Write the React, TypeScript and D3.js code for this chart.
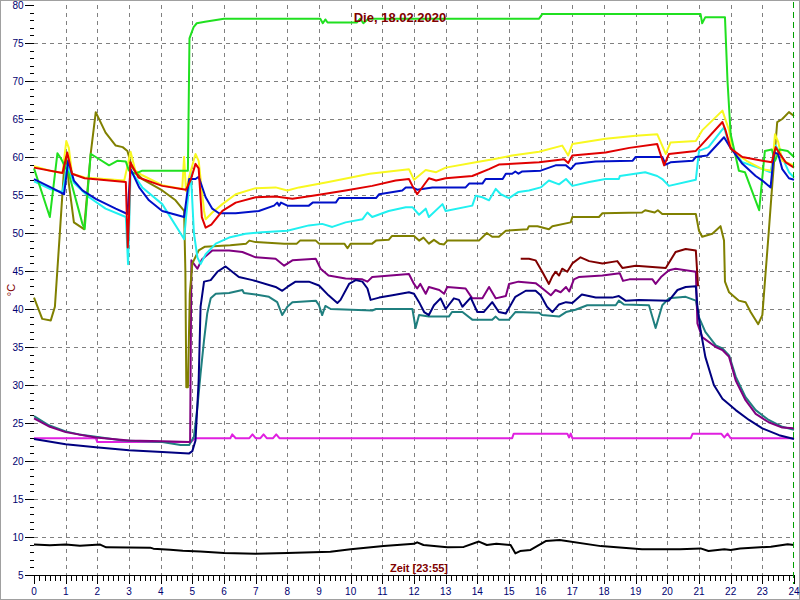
import React from "react";
import * as d3 from "d3";

type Pt = [number, number];

// hours 0..24, °C
const hourTicks = d3.range(0, 25);
const tempTicks = d3.range(5, 81, 5);

const green: Pt[] = [[0,58.5],[0.5,52.1],[0.74,60.5],[0.85,59.8],[1.1,57.8],[1.53,51.2],[1.6,50.5],[1.79,60.4],[1.95,60.0],[2.37,58.9],[2.63,59.5],[2.9,59.4],[3.0,58.2],[3.2,57.8],[3.42,58.2],[4.86,58.2],[4.91,75.6],[5.04,77.1],[5.14,77.6],[5.4,77.8],[6.0,78.2],[9.04,78.2],[9.12,77.6],[9.2,78.1],[9.27,77.7],[10.2,77.7],[10.3,78.2],[10.4,77.6],[10.56,78.2],[15.95,78.2],[16.05,78.8],[21.05,78.8],[21.1,77.6],[21.2,78.4],[21.82,78.4],[21.9,70.0],[22.0,63.0],[22.26,58.2],[22.45,58.0],[22.9,53.0],[23.0,57.3],[23.08,60.8],[23.3,61.0],[23.4,59.5],[23.55,61.0],[23.8,60.8],[24,60.0]];

const yellow: Pt[] = [[0,58.8],[0.5,58.2],[0.9,57.9],[1.02,62.1],[1.1,61.2],[1.2,57.8],[1.6,57.3],[2.85,56.9],[3.05,60.7],[3.2,58.2],[3.42,57.6],[4.05,56.3],[4.68,55.8],[4.74,60.0],[4.8,55.5],[4.9,57.4],[5.1,60.4],[5.2,59.5],[5.37,52.9],[5.42,51.8],[5.63,52.7],[5.95,53.8],[6.37,55.1],[7.0,55.9],[7.63,56.0],[8.0,55.6],[8.37,56.0],[9.3,56.7],[10.6,57.8],[11.84,58.4],[12.0,57.0],[12.37,58.3],[12.7,58.0],[13.0,58.6],[13.95,59.3],[14.5,59.7],[15.1,60.2],[15.95,60.7],[16.68,61.5],[16.87,60.2],[17.0,61.7],[18.05,62.4],[19.0,62.8],[19.68,63.0],[19.95,60.4],[20.1,61.9],[20.9,62.1],[21.1,63.5],[21.74,66.1],[21.95,63.5],[22.05,60.8],[22.5,59.5],[23.0,58.4],[23.3,58.2],[23.4,63.0],[23.5,62.0],[23.63,59.5],[24,58.9]];

const red: Pt[] = [[0,58.6],[0.9,57.9],[1.05,60.6],[1.2,57.8],[1.6,57.2],[2.9,56.7],[2.96,48.1],[3.0,52.0],[3.04,59.3],[3.3,57.3],[4.05,56.2],[4.8,55.7],[4.95,57.0],[5.1,59.1],[5.2,58.5],[5.3,52.1],[5.42,50.7],[5.6,51.1],[5.95,52.9],[6.37,54.0],[7.0,54.7],[7.63,54.8],[8.16,54.5],[8.8,54.9],[9.84,55.6],[10.68,56.2],[11.42,56.9],[11.84,57.1],[11.95,56.2],[12.1,55.1],[12.47,57.2],[12.7,56.9],[13.0,57.2],[13.84,57.5],[14.37,58.4],[14.68,59.0],[15.95,59.3],[16.74,59.7],[16.87,59.2],[17.0,60.2],[18.05,60.6],[18.8,61.2],[19.68,61.7],[19.9,58.9],[20.05,60.4],[20.9,60.8],[21.1,61.7],[21.74,64.6],[21.84,63.5],[22.0,61.1],[22.37,60.0],[23.0,59.5],[23.3,59.3],[23.42,61.3],[23.52,60.6],[23.74,59.3],[24,58.6]];

const blue: Pt[] = [[0,57.1],[0.53,56.0],[0.95,55.1],[1.08,59.5],[1.26,56.9],[1.53,55.6],[1.95,54.5],[2.58,53.2],[2.95,52.5],[3.05,58.4],[3.32,56.0],[3.63,54.3],[4.05,52.9],[4.74,52.1],[4.85,55.6],[4.9,57.1],[5.1,57.1],[5.2,57.4],[5.42,54.7],[5.63,53.2],[5.84,52.6],[6.37,52.6],[7.1,52.9],[7.58,53.6],[7.68,54.0],[7.74,53.6],[7.8,54.0],[8.0,53.6],[8.68,53.6],[8.8,54.0],[9.53,54.0],[9.63,54.6],[10.8,54.6],[10.9,55.1],[11.63,55.6],[11.74,56.0],[11.95,56.0],[12.1,55.7],[12.58,56.0],[13.63,56.0],[13.74,56.5],[14.16,56.5],[14.26,57.1],[14.8,57.1],[14.9,57.8],[15.1,57.8],[15.2,58.1],[15.3,57.8],[15.42,58.1],[16.0,58.2],[16.47,58.9],[16.8,58.9],[16.95,58.4],[17.1,59.1],[17.74,59.4],[18.9,59.5],[19.0,60.0],[19.84,60.0],[19.95,59.0],[20.1,59.3],[20.8,59.5],[20.9,60.0],[21.26,60.2],[21.79,62.6],[21.95,61.5],[22.37,59.1],[22.79,57.5],[23.0,56.9],[23.26,56.0],[23.37,60.6],[23.5,60.4],[23.63,58.4],[23.84,57.2],[24,57.0]];

const cyan: Pt[] = [[0,56.8],[0.5,55.8],[0.9,55.4],[1.05,58.9],[1.26,56.6],[1.74,54.7],[2.26,53.2],[2.9,52.1],[2.97,45.9],[3.0,50.0],[3.05,58.2],[3.42,56.0],[4.05,53.8],[4.74,49.2],[4.8,52.0],[4.95,58.2],[5.05,50.0],[5.16,46.8],[5.26,45.9],[5.42,47.2],[5.74,48.6],[6.16,49.4],[6.68,49.9],[7.2,50.1],[8.0,50.3],[8.68,51.0],[9.1,51.2],[9.42,50.8],[9.84,51.4],[10.37,51.8],[10.53,52.7],[10.68,52.1],[11.2,52.9],[11.74,53.4],[11.95,53.4],[12.16,52.4],[12.37,53.2],[12.47,52.1],[12.9,53.8],[13.0,52.9],[13.84,53.6],[13.95,54.9],[14.16,54.7],[14.37,54.3],[14.58,55.8],[14.74,55.1],[15.0,54.6],[15.3,55.4],[15.63,55.6],[16.0,56.0],[16.26,56.9],[16.58,56.4],[16.8,57.1],[17.0,56.2],[17.53,56.7],[18.05,57.1],[18.47,57.1],[18.5,57.5],[19.3,58.0],[19.68,57.5],[19.84,57.1],[20.05,56.2],[20.9,57.0],[21.0,60.8],[21.3,61.3],[21.79,63.9],[21.95,61.7],[22.16,60.4],[22.37,59.3],[23.0,58.4],[23.26,58.0],[23.42,61.5],[23.58,60.4],[23.84,58.0],[24,57.3]];

const olive: Pt[] = [[0,41.5],[0.26,38.7],[0.53,38.5],[0.66,40.3],[0.8,49.0],[0.95,58.5],[1.02,60.0],[1.1,56.5],[1.26,51.4],[1.58,50.5],[1.79,60.4],[1.95,65.9],[2.26,63.2],[2.58,61.5],[2.8,61.3],[2.95,60.8],[3.1,58.6],[3.42,57.1],[4.05,55.6],[4.47,54.3],[4.74,52.9],[4.78,45.0],[4.81,29.7],[4.86,29.7],[4.92,42.0],[5.0,46.0],[5.2,47.7],[5.4,48.2],[6.2,48.4],[6.7,48.6],[6.8,49.0],[7.0,48.8],[7.9,48.6],[8.3,48.6],[8.4,49.0],[8.9,49.0],[9.0,48.6],[9.8,48.6],[9.9,48.0],[10.0,48.6],[10.68,48.6],[10.8,49.0],[11.2,49.1],[11.3,49.6],[12.0,49.6],[12.16,49.0],[12.3,49.4],[12.47,48.6],[12.63,49.1],[12.8,48.6],[12.95,48.5],[13.05,49.0],[14.05,49.0],[14.3,50.0],[14.47,49.5],[14.68,49.5],[14.9,50.3],[15.58,50.5],[15.63,50.9],[15.9,50.9],[16.26,50.5],[16.37,50.9],[16.95,51.4],[17.0,52.1],[17.84,52.1],[17.95,52.6],[19.2,52.7],[19.3,53.0],[19.6,52.7],[19.7,53.0],[19.84,52.5],[20.9,52.5],[21.0,50.3],[21.1,49.5],[21.42,49.9],[21.68,50.9],[21.79,49.0],[21.82,43.6],[21.95,42.2],[22.26,41.1],[22.47,40.9],[22.63,39.6],[22.87,38.0],[23.0,39.2],[23.1,44.6],[23.2,50.0],[23.3,55.6],[23.47,64.6],[23.63,65.0],[23.84,65.9],[24,65.4]];

const purple: Pt[] = [[0,25.6],[0.5,24.5],[1.0,23.8],[1.95,23.1],[3.0,22.7],[4.05,22.6],[4.93,22.5],[4.97,46.4],[5.16,45.3],[5.3,46.5],[5.63,47.7],[6.16,47.7],[6.58,47.5],[7.0,46.8],[7.63,46.6],[7.9,45.7],[8.16,46.4],[8.9,46.6],[9.05,45.3],[9.3,44.4],[9.84,44.0],[10.37,43.9],[10.53,43.6],[10.68,44.2],[11.84,44.6],[12.0,43.3],[12.1,42.7],[12.2,43.3],[12.37,42.0],[12.47,42.9],[12.8,42.5],[12.95,42.0],[13.05,42.9],[13.63,42.7],[13.84,41.4],[14.16,41.4],[14.37,42.9],[14.58,41.4],[14.9,41.7],[15.0,43.3],[15.3,43.6],[15.84,43.4],[16.0,42.9],[16.32,41.8],[16.47,42.5],[16.63,42.2],[16.8,42.9],[16.9,42.3],[17.05,43.9],[17.2,44.2],[17.95,44.4],[18.5,44.7],[18.6,43.7],[18.8,43.9],[19.53,43.9],[19.63,43.3],[19.8,44.2],[20.05,45.1],[20.26,45.3],[20.9,44.9],[20.95,38.1],[21.1,36.3],[21.53,35.0],[21.74,34.6],[21.95,33.7],[22.16,30.6],[22.47,28.0],[22.79,26.2],[23.2,25.1],[23.63,24.4],[24,24.3]];

const teal: Pt[] = [[0,25.9],[0.47,24.7],[1.0,23.9],[1.42,23.5],[1.95,23.2],[2.8,22.7],[4.05,22.5],[4.63,22.1],[4.9,22.1],[5.05,23.2],[5.16,27.1],[5.26,31.5],[5.37,35.9],[5.47,39.4],[5.58,41.4],[5.74,42.0],[6.16,42.1],[6.58,42.5],[6.63,42.1],[7.0,41.9],[7.42,41.6],[7.68,40.9],[7.84,39.2],[8.0,40.3],[8.16,40.9],[8.9,41.1],[9.0,40.5],[9.1,39.2],[9.2,40.4],[9.37,40.0],[10.68,39.8],[10.8,40.0],[11.95,40.0],[12.05,37.5],[12.16,39.2],[12.47,39.0],[13.1,39.0],[13.2,39.6],[13.53,39.6],[13.84,38.6],[14.47,38.6],[14.58,39.0],[14.68,38.6],[15.0,38.6],[15.2,39.6],[15.95,39.5],[16.05,39.2],[16.58,39.0],[16.8,39.6],[17.1,39.9],[17.47,40.5],[18.37,40.5],[18.47,41.1],[18.63,40.6],[19.42,40.5],[19.63,37.5],[19.84,40.5],[20.05,41.4],[20.58,41.6],[20.9,41.1],[21.0,38.9],[21.2,37.0],[21.53,35.2],[21.74,34.8],[21.95,33.9],[22.16,31.1],[22.47,28.4],[22.79,26.7],[23.2,25.4],[23.63,24.5],[24,24.1]];

const navy: Pt[] = [[0,22.9],[1.0,22.2],[1.95,21.8],[3.0,21.4],[4.05,21.2],[4.9,21.0],[5.0,21.3],[5.1,22.7],[5.2,30.6],[5.26,40.3],[5.37,43.6],[5.58,43.8],[5.79,44.9],[6.05,45.6],[6.47,44.2],[6.9,43.8],[7.63,42.9],[7.84,42.4],[8.0,42.9],[8.26,43.6],[8.68,43.6],[9.0,43.1],[9.3,41.8],[9.58,40.8],[9.68,41.2],[9.95,43.3],[10.16,43.8],[10.37,43.6],[10.53,42.7],[10.63,41.2],[10.9,41.5],[11.32,41.8],[11.84,42.2],[12.0,42.0],[12.16,40.9],[12.32,39.6],[12.47,39.2],[12.63,40.5],[12.84,41.4],[13.0,40.0],[13.26,41.4],[13.42,41.2],[13.53,40.3],[13.79,41.5],[14.0,39.6],[14.2,39.6],[14.47,40.9],[14.68,39.6],[14.9,39.4],[15.2,41.6],[15.53,42.4],[15.84,42.4],[16.0,41.8],[16.2,40.3],[16.37,39.6],[16.58,40.6],[16.8,40.9],[17.0,40.8],[17.3,41.9],[17.74,41.5],[18.26,41.5],[18.47,41.7],[18.68,41.1],[19.1,41.2],[20.05,41.1],[20.32,42.5],[20.58,42.9],[20.9,43.0],[20.95,40.3],[21.05,37.2],[21.2,33.7],[21.47,30.0],[21.74,28.2],[22.16,26.7],[22.58,25.4],[23.0,24.3],[23.53,23.4],[24,22.9]];

const maroon: Pt[] = [[15.37,46.6],[15.63,46.6],[15.84,46.4],[16.05,44.9],[16.26,43.3],[16.37,44.3],[16.47,44.9],[16.58,44.4],[16.68,45.3],[16.84,44.9],[17.0,46.0],[17.26,46.8],[17.53,46.3],[17.95,46.0],[18.42,46.3],[18.58,45.4],[19.0,45.7],[19.95,45.4],[20.26,47.5],[20.58,47.9],[20.9,47.7],[20.97,43.0]];

const magenta: Pt[] = [[0,23.0],[1.95,23.0],[2.0,22.5],[4.95,22.5],[5.1,23.0],[6.2,23.0],[6.26,23.5],[6.37,23.0],[6.8,23.0],[6.9,23.5],[7.0,23.0],[7.15,23.0],[7.25,23.5],[7.35,23.0],[7.55,23.0],[7.65,23.5],[7.75,23.0],[15.1,23.0],[15.15,23.6],[16.84,23.6],[16.9,23.1],[16.95,23.6],[17.0,23.0],[20.74,23.0],[20.8,23.6],[21.7,23.6],[21.8,23.1],[21.9,23.6],[22.0,23.0],[24,23.0]];

const black: Pt[] = [[0,9.0],[0.5,8.9],[1.0,9.0],[1.45,8.86],[2.09,9.0],[2.28,8.64],[3.67,8.6],[3.77,8.47],[4.3,8.33],[4.7,8.2],[5.25,8.1],[6.0,7.9],[7.0,7.8],[8.0,7.9],[9.36,8.07],[10.0,8.4],[11.04,8.8],[12.0,9.1],[12.1,9.3],[12.3,8.95],[13.05,8.64],[13.57,8.7],[14.05,9.4],[14.3,8.95],[14.6,9.1],[15.05,8.95],[15.2,7.85],[15.35,8.15],[15.68,8.3],[16.16,9.47],[16.6,9.6],[17.9,8.8],[19.2,8.4],[20.4,8.4],[21.05,8.5],[21.3,8.16],[21.8,8.4],[22.0,8.3],[22.3,8.5],[23.27,8.73],[23.8,9.04],[24,8.95]];

// drawing order, bottom first
const series: { data: Pt[]; color: string }[] = [
  { data: black, color: "#000000" },
  { data: magenta, color: "#e020e0" },
  { data: teal, color: "#1f7f7f" },
  { data: purple, color: "#800080" },
  { data: navy, color: "#000080" },
  { data: maroon, color: "#800000" },
  { data: olive, color: "#808000" },
  { data: cyan, color: "#20f0f0" },
  { data: yellow, color: "#f8f820" },
  { data: green, color: "#20e020" },
  { data: blue, color: "#0010c8" },
  { data: red, color: "#e00000" },
];

const markerHour = 24;

const App: React.FC = () => {
  const width = 800;
  const height = 600;

  const x = d3.scaleLinear().domain([0, 24]).range([34, 794]);
  const y = d3.scaleLinear().domain([5, 80]).range([575, 5]);

  const line = d3
    .line<Pt>()
    .x((d) => x(d[0]))
    .y((d) => y(d[1]));

  const minorX = d3.range(0, 24 * 6 + 1).filter((i) => i % 6 !== 0).map((i) => i / 6);
  const minorY = d3.range(5, 81).filter((v) => v % 5 !== 0);

  const font = "'Liberation Sans', Arial, sans-serif";

  return (
    <svg
      width={width}
      height={height}
      style={{ position: "absolute", left: 0, top: 0, background: "#fff" }}
      fontFamily={font}
    >
      <rect x={0.5} y={0.5} width={width - 1} height={height - 1} fill="#fff" stroke="#a0a0a0" />

      {/* grid */}
      <g stroke="#808080" strokeDasharray="4,4" strokeWidth={1}>
        {tempTicks.slice(1, -1).map((t) => (
          <line key={"h" + t} x1={x(0)} x2={x(24)} y1={Math.round(y(t)) + 0.5} y2={Math.round(y(t)) + 0.5} />
        ))}
        {hourTicks.slice(1, -1).map((h) => (
          <line key={"v" + h} x1={Math.round(x(h)) + 0.5} x2={Math.round(x(h)) + 0.5} y1={y(80)} y2={y(5)} />
        ))}
      </g>

      {/* y axis ticks */}
      <g stroke="#000" strokeWidth={1}>
        {tempTicks.map((t) => (
          <line key={"yt" + t} x1={25} x2={x(0)} y1={Math.round(y(t)) + 0.5} y2={Math.round(y(t)) + 0.5} />
        ))}
        {minorY.map((t) => (
          <line key={"ym" + t} x1={30} x2={x(0)} y1={Math.round(y(t)) + 0.5} y2={Math.round(y(t)) + 0.5} />
        ))}
      </g>
      <g fill="#000070" fontSize={10} textAnchor="end">
        {tempTicks.map((t) => (
          <text key={"yl" + t} x={23.5} y={y(t) + 3.5}>
            {t}
          </text>
        ))}
      </g>

      {/* x axis */}
      <g stroke="#000" strokeWidth={1}>
        <line x1={x(0)} x2={x(24)} y1={575.5} y2={575.5} />
        {hourTicks.map((h) => (
          <line key={"xt" + h} x1={Math.round(x(h)) + 0.5} x2={Math.round(x(h)) + 0.5} y1={575} y2={584} />
        ))}
        {minorX.map((h) => (
          <line key={"xm" + h} x1={Math.round(x(h)) + 0.5} x2={Math.round(x(h)) + 0.5} y1={576} y2={581} />
        ))}
      </g>
      <g fill="#000070" fontSize={10} textAnchor="middle">
        {hourTicks.map((h) => (
          <text key={"xl" + h} x={x(h)} y={595}>
            {h}
          </text>
        ))}
      </g>

      {/* series */}
      <g fill="none" strokeWidth={2} strokeLinejoin="round">
        {series.map((s, i) => (
          <path key={i} d={line(s.data) || ""} stroke={s.color} />
        ))}
      </g>

      {/* current time marker */}
      <line
        x1={x(markerHour) - 0.5}
        x2={x(markerHour) - 0.5}
        y1={2}
        y2={584}
        stroke="#00a000"
        strokeDasharray="6,4"
      />

      <text x={400} y={22} textAnchor="middle" fontSize={13} fontWeight="bold" fill="#800000">
        Die, 18.02.2020
      </text>
      <text x={419} y={572} textAnchor="middle" fontSize={11} fontWeight="bold" fill="#800000">
        Zeit [23:55]
      </text>
      <text transform="translate(14.5,290) rotate(-90)" textAnchor="middle" fontSize={11} fill="#800000">
        °C
      </text>
    </svg>
  );
};

export default App;
